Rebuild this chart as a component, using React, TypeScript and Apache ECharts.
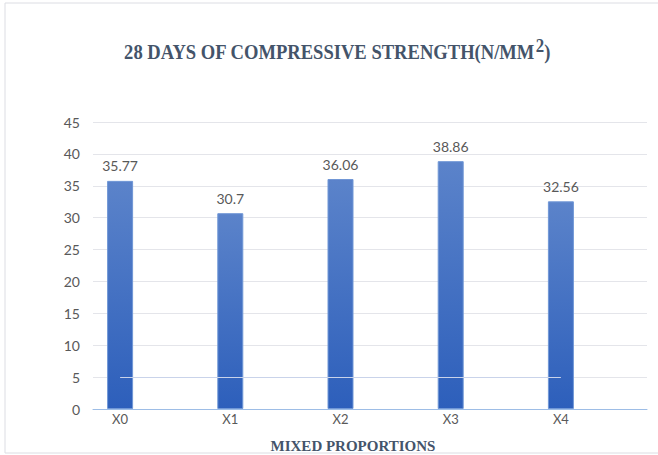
import React, { useEffect, useRef } from "react";
import * as echarts from "echarts";

const categories = ["X0", "X1", "X2", "X3", "X4"];
const strengthValues = [35.77, 30.7, 36.06, 38.86, 32.56];
const yMin = 0;
const yMax = 45;
const yInterval = 5;
const titleText = "28 DAYS OF COMPRESSIVE STRENGTH(N/MM";
const titleSup = "2";
const xAxisTitle = "MIXED PROPORTIONS";

export default function App() {
  const ref = useRef<HTMLDivElement>(null);
  useEffect(() => {
    if (!ref.current) return;
    const chart = echarts.init(ref.current, null, { renderer: "svg" });
    const gridTop = 122;
    const gridBottom = 46;
    chart.setOption({
      animation: false,
      backgroundColor: "#ffffff",
      graphic: [
        {
          type: "rect",
          shape: { x: 5, y: 3, width: 700, height: 450 },
          style: { fill: "none", stroke: "#dcdde3", lineWidth: 1 },
          silent: true,
          z: -1,
        },
        {
          type: "text",
          x: 337,
          y: 36,
          scaleX: 0.885,
          style: {
            text: `{m|${titleText}}{s|${titleSup}}{m|)}`,
            align: "center",
            verticalAlign: "top",
            rich: {
              m: {
                fontFamily: "Liberation Serif",
                fontWeight: "bold",
                fontSize: 21,
                fill: "#44546a",
                color: "#44546a",
                verticalAlign: "bottom",
                lineHeight: 26,
              },
              s: {
                fontFamily: "Liberation Serif",
                fontWeight: "bold",
                fontSize: 19,
                fill: "#44546a",
                color: "#44546a",
                verticalAlign: "top",
                padding: [0, 0, 10, 1],
                lineHeight: 26,
              },
            },
          },
        },
        {
          type: "text",
          x: 353,
          y: 438,
          z: 1,
          style: {
            text: xAxisTitle,
            align: "center",
            verticalAlign: "top",
            font: "bold 15px 'Liberation Serif'",
            fill: "#44546a",
          },
        },
      ],
      grid: [
        { left: 93, right: 11, top: gridTop, bottom: gridBottom },
        { left: 65, right: 42, top: gridTop, bottom: gridBottom },
      ],
      xAxis: [
        {
          gridIndex: 0,
          type: "category",
          data: categories,
          axisLine: { show: true, lineStyle: { color: "#9dbde6", width: 1 } },
          axisTick: { show: false },
          axisLabel: { show: false },
          splitLine: { show: false },
        },
        {
          gridIndex: 1,
          type: "category",
          data: categories,
          axisLine: { show: false },
          axisTick: { show: false },
          axisLabel: {
            color: "#595959",
            fontFamily: "Lato",
            fontSize: 13,
            margin: 3,
          },
        },
      ],
      yAxis: [
        {
          gridIndex: 0,
          type: "value",
          min: yMin,
          max: yMax,
          interval: yInterval,
          axisLine: { show: false },
          axisTick: { show: false },
          axisLabel: {
            color: "#595959",
            fontFamily: "Lato",
            fontSize: 14,
            margin: 13,
          },
          splitLine: { lineStyle: { color: "#e4e5ea", width: 1 } },
        },
        {
          gridIndex: 1,
          type: "value",
          min: yMin,
          max: yMax,
          interval: yInterval,
          show: false,
          splitLine: { show: false },
        },
      ],
      series: [
        {
          type: "bar",
          xAxisIndex: 1,
          yAxisIndex: 1,
          data: strengthValues,
          barWidth: 26,
          itemStyle: {
            color: new echarts.graphic.LinearGradient(0, 0, 0, 1, [
              { offset: 0, color: "#5b83ca" },
              { offset: 1, color: "#2d5fbb" },
            ]),
            borderColor: "#7097d6",
            borderWidth: 1,
          },
          label: {
            show: true,
            position: "top",
            distance: 8,
            color: "#595959",
            fontFamily: "Lato",
            fontSize: 14,
          },
          markLine: {
            silent: true,
            symbol: "none",
            label: { show: false },
            lineStyle: { color: "#c9d3ea", type: "solid", width: 1 },
            data: [[{ xAxis: "X0", yAxis: 5 }, { xAxis: "X4", yAxis: 5 }]],
          },
        },
      ],
    });
    return () => chart.dispose();
  }, []);
  return <div ref={ref} style={{ width: 658, height: 455, position: "fixed", left: 0, top: 0 }} />;
}
